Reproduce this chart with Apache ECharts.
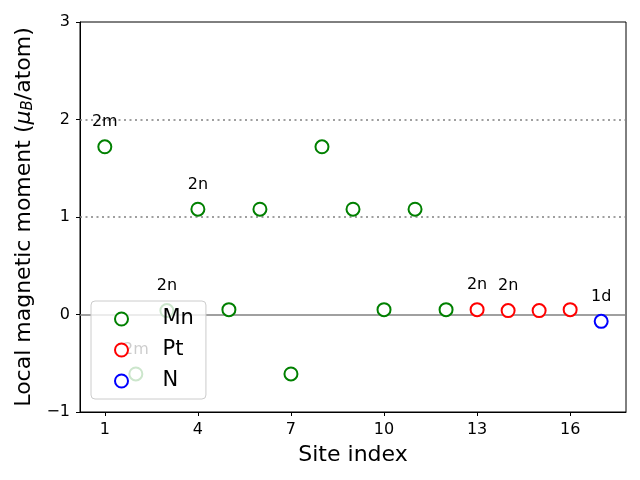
<!DOCTYPE html>
<html>
<head>
<meta charset="utf-8">
<script src="https://cdn.jsdelivr.net/npm/echarts@6/dist/echarts.min.js"></script>
<style>html,body{margin:0;padding:0;background:#fff}#c{width:640px;height:480px}</style>
</head>
<body>
<div id="c"></div>
<script>
// Data
const mnSites = [1, 2, 3, 4, 5, 6, 7, 8, 9, 10, 11, 12];
const mnValues = [1.72, -0.61, 0.04, 1.08, 0.05, 1.08, -0.61, 1.72, 1.08, 0.05, 1.08, 0.05];
const ptSites = [13, 14, 15, 16];
const ptValues = [0.05, 0.04, 0.04, 0.05];
const nSites = [17];
const nValues = [-0.07];
const annotationSites = [1, 2, 3, 4, 13, 14, 17];
const annotationTexts = ['2m', '2m', '2n', '2n', '2n', '2n', '1d'];
const xTickValues = [1, 4, 7, 10, 13, 16];
const refLevels = [1, 2];

function buildData(sites, values) {
  return sites.map((s, i) => {
    const idx = annotationSites.indexOf(s);
    const item = { value: [s, values[i]] };
    if (idx >= 0) {
      item.label = { show: true, formatter: annotationTexts[idx] };
    }
    return item;
  });
}

const labelCfg = {
  position: 'top', distance: 9, color: '#000', fontSize: 16,
  fontFamily: 'DejaVu Sans'
};

const chart = echarts.init(document.getElementById('c'));
chart.setOption({
  animation: false,
  backgroundColor: '#fff',
  textStyle: { fontFamily: 'DejaVu Sans' },
  grid: { left: 80, right: 14, top: 22, bottom: 68, show: true, borderColor: '#000', borderWidth: 1, backgroundColor: 'transparent' },
  xAxis: {
    type: 'value', min: 0.2, max: 17.8,
    name: 'Site index', nameLocation: 'middle', nameGap: 32,
    nameTextStyle: { fontSize: 22, color: '#000' },
    axisLine: { show: true, onZero: false, lineStyle: { color: '#000' } },
    axisTick: { show: true, length: 4, customValues: xTickValues, lineStyle: { color: '#000' } },
    axisLabel: { fontSize: 16, color: '#000', margin: 10, customValues: xTickValues },
    splitLine: { show: false }
  },
  yAxis: {
    type: 'value', min: -1, max: 3, interval: 1,
    name: 'Local magnetic moment ({i|μ}{sub|B}/atom)', nameLocation: 'middle', nameGap: 44, nameRotate: 90,
    nameTextStyle: {
      fontSize: 22, color: '#000',
      rich: {
        i: { fontSize: 22, fontStyle: 'italic', color: '#000' },
        sub: { fontSize: 15, fontStyle: 'italic', color: '#000', verticalAlign: 'bottom', padding: [8, 0, 0, 0] }
      }
    },
    axisLine: { show: true, onZero: false, lineStyle: { color: '#000' } },
    axisTick: { show: true, length: 4, lineStyle: { color: '#000' } },
    axisLabel: { fontSize: 16, color: '#000', margin: 10, formatter: v => String(v).replace('-', '\u2212') },
    splitLine: { show: false }
  },
  legend: {
    orient: 'vertical', left: 91, top: 301,
    backgroundColor: 'rgba(255,255,255,0.8)', borderColor: '#cccccc', borderWidth: 1, borderRadius: 4,
    padding: [6, 12, 6, 23], itemWidth: 30, itemHeight: 13, itemGap: 7,
    textStyle: { fontSize: 21, color: '#000', padding: [0, 0, 0, 21], lineHeight: 24 },
    data: ['Mn', 'Pt', 'N']
  },
  series: [
    {
      name: 'Mn', type: 'scatter', symbol: 'emptyCircle', symbolSize: 13,
      itemStyle: { color: '#008000', borderWidth: 1.2, opacity: 1 },
      label: labelCfg,
      data: buildData(mnSites, mnValues),
      markLine: {
        silent: true, symbol: 'none', label: { show: false },
        data: [
          { yAxis: 0, lineStyle: { color: '#808080', type: 'solid', width: 1.5 } },
          { yAxis: refLevels[0], lineStyle: { color: '#808080', type: [2, 3.5], width: 1.5 } },
          { yAxis: refLevels[1], lineStyle: { color: '#808080', type: [2, 3.5], width: 1.5 } }
        ],
        z: 1
      }
    },
    {
      name: 'Pt', type: 'scatter', symbol: 'emptyCircle', symbolSize: 13,
      itemStyle: { color: '#ff0000', borderWidth: 1.2, opacity: 1 },
      label: labelCfg,
      data: buildData(ptSites, ptValues)
    },
    {
      name: 'N', type: 'scatter', symbol: 'emptyCircle', symbolSize: 13,
      itemStyle: { color: '#0000ff', borderWidth: 1.2, opacity: 1 },
      label: labelCfg,
      data: buildData(nSites, nValues)
    }
  ]
});
</script>
</body>
</html>
